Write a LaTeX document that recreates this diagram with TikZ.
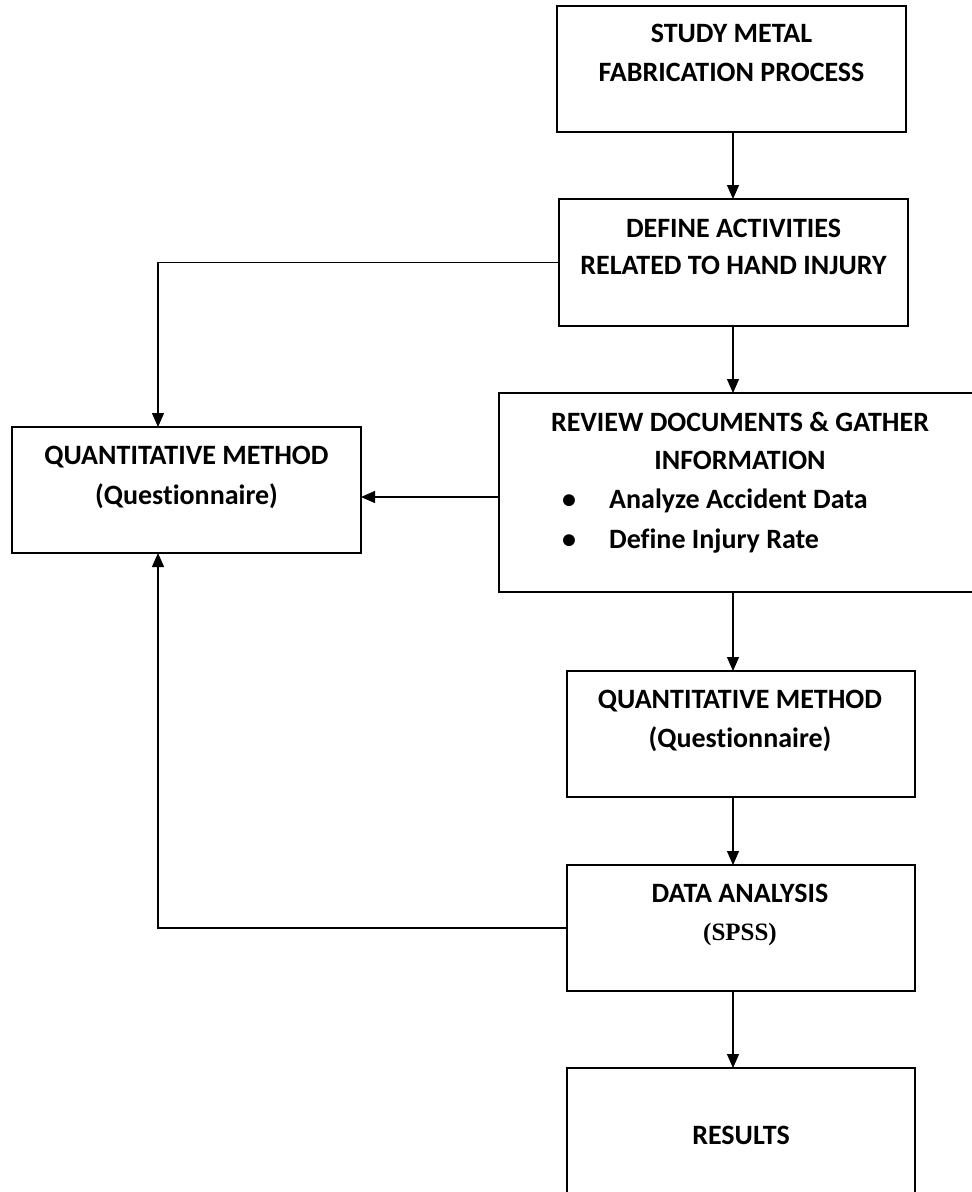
\documentclass[tikz,border=0pt]{standalone}
\usepackage{fontspec}
\setmainfont{Carlito}[Ligatures=NoCommon]
\newfontfamily\timesf{Liberation Serif}
\usetikzlibrary{arrows.meta}
\tikzset{
  box/.style={draw, line width=1.3pt, inner sep=0pt, outer sep=0pt},
  txt/.style={anchor=base, inner sep=0pt, font=\fontsize{28}{33}\selectfont\bfseries},
  bul/.style={anchor=base west, inner sep=0pt, font=\fontsize{28}{33}\selectfont\bfseries},
  arr/.style={line width=1.3pt, -{Triangle[length=14pt,width=12pt]}},
}
\begin{document}
\begin{tikzpicture}[x=1pt,y=-1pt]
\useasboundingbox[fill=white] (0,0) rectangle (972,1192);
% boxes
\node[box, minimum width=349pt, minimum height=126pt] (b1) at (731.5,69) {};
\node[box, minimum width=349pt, minimum height=127pt] (b2) at (733.5,262.5) {};
\node[box, minimum width=520pt, minimum height=199pt] (b3) at (759,492.5) {};
\node[box, minimum width=349pt, minimum height=126pt] (bl) at (186.5,490) {};
\node[box, minimum width=348pt, minimum height=126pt] (b4) at (741,734) {};
\node[box, minimum width=348pt, minimum height=126pt] (b5) at (741,928) {};
\node[box, minimum width=348pt, minimum height=132pt] (b6) at (741,1134) {};
% texts
\node[txt] (t1a) at (731.5,42) {STUDY METAL};
\node[txt] (t1b) at (731.5,81) {FABRICATION PROCESS};
\node[txt] (t2a) at (733.5,237) {DEFINE ACTIVITIES};
\node[txt] (t2b) at (733.5,274) {RELATED TO HAND INJURY};
\node[txt] (t3a) at (740,431) {REVIEW DOCUMENTS \& GATHER};
\node[txt] (t3b) at (740,469) {INFORMATION};
\node[txt] (d1) at (569,508) {•};
\node[txt] (d2) at (569,548) {•};
\node[bul] (t3c) at (609,508) {Analyze Accident Data};
\node[bul] (t3d) at (609,548) {Define Injury Rate};
\node[txt] (tla) at (186.5,464) {QUANTITATIVE METHOD};
\node[txt] (tlb) at (186.5,504) {(Questionnaire)};
\node[txt] (t4a) at (740,708) {QUANTITATIVE METHOD};
\node[txt] (t4b) at (740,747) {(Questionnaire)};
\node[txt] (t5a) at (740,902) {DATA ANALYSIS};
\node[txt, font=\fontsize{25}{30}\selectfont\timesf\bfseries] (t5b) at (740,940) {(SPSS)};
\node[txt] (t6) at (741,1144) {RESULTS};
% connectors
\coordinate (ax) at (733,0);
\coordinate (lx) at (158,0);
\coordinate (ay) at (0,497);
\draw[arr] (ax |- b1.south) -- (ax |- b2.north);
\draw[arr] (ax |- b2.south) -- (ax |- b3.north);
\draw[arr] (ax |- b3.south) -- (ax |- b4.north);
\draw[arr] (ax |- b4.south) -- (ax |- b5.north);
\draw[arr] (ax |- b5.south) -- (ax |- b6.north);
\draw[arr] (b2.west) -| (lx |- bl.north);
\draw[arr] (ay -| b3.west) -- (ay -| bl.east);
\draw[arr] (b5.west) -| (lx |- bl.south);
\end{tikzpicture}
\end{document}
